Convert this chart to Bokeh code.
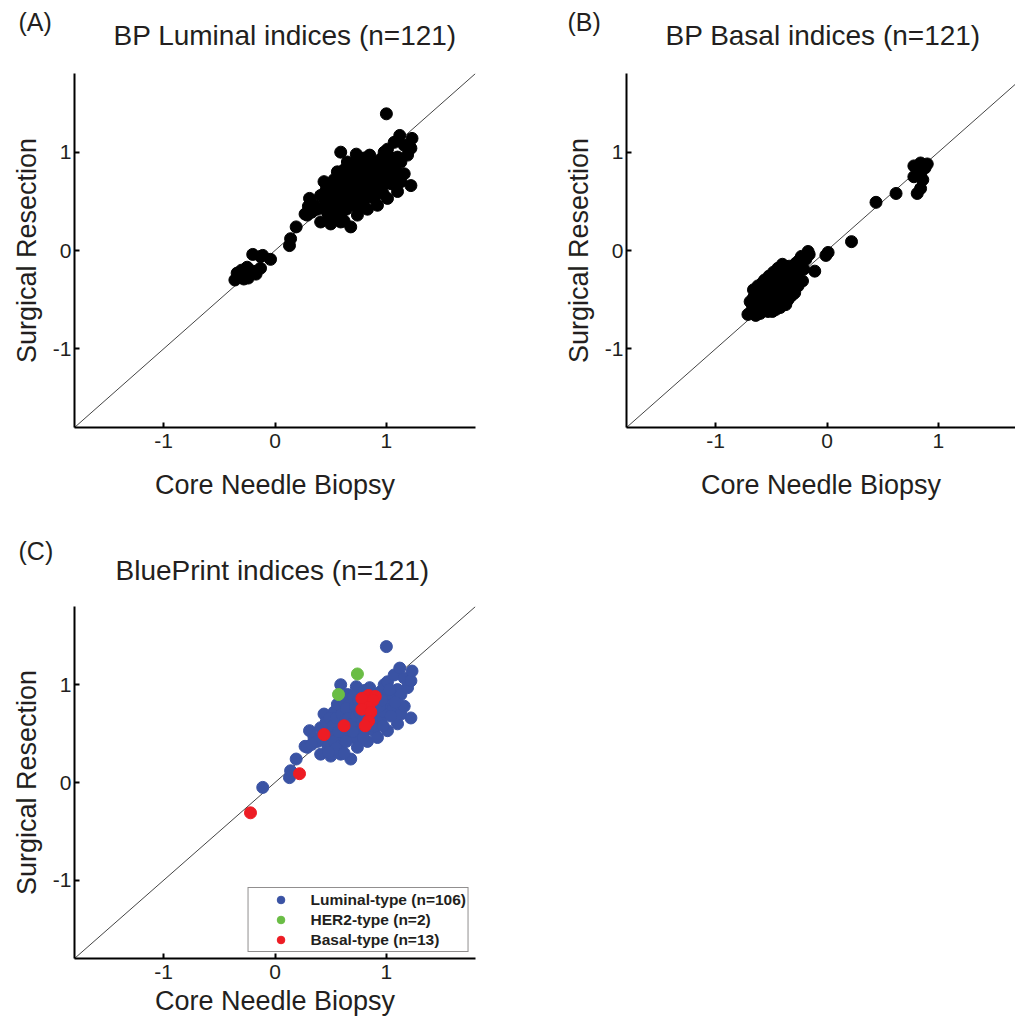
from bokeh.plotting import figure
from bokeh.models import Range1d, FixedTicker, Label
from bokeh.layouts import column, row
from bokeh.embed import file_html
from bokeh.resources import INLINE

# ---------------- data ----------------
# Luminal-type samples (n=106): luminal index, core needle biopsy (x) / surgical resection (y)
lum_lumidx_cnb = [-0.11, 0.13, 0.14, 0.19, 0.27, 0.29, 0.31, 0.35, 0.41, 0.41,
                  0.44, 0.47, 0.50, 0.50, 0.53, 0.53, 0.56, 0.59, 0.59, 0.59,
                  0.59, 0.62, 0.62, 0.65, 0.65, 0.68, 0.68, 0.68, 0.71, 0.73,
                  0.74, 0.74, 0.77, 0.77, 0.77, 0.81, 0.83, 0.85, 0.89, 0.92,
                  0.92, 0.92, 0.95, 0.95, 0.98, 0.98, 1.00, 1.01, 1.01, 1.01,
                  1.01, 1.06, 1.06, 1.07, 1.10, 1.10, 1.12, 1.13, 1.13, 1.16,
                  1.16, 1.19, 1.22, 1.22, 1.23, 0.46, 0.49, 0.52, 0.55, 0.57,
                  0.60, 0.63, 0.64, 0.66, 0.69, 0.70, 0.72, 0.73, 0.75, 0.76,
                  0.78, 0.80, 0.80, 0.82, 0.84, 0.86, 0.87, 0.88, 0.90, 0.93,
                  0.94, 0.96, 0.97, 1.03, 1.04, 1.08, 0.86, 0.55, 0.45, 0.38,
                  0.64, 0.70, 0.79, 0.62, 0.48, 0.33]
lum_lumidx_sr = [-0.05, 0.05, 0.12, 0.24, 0.37, 0.36, 0.53, 0.46, 0.29, 0.56,
                 0.70, 0.39, 0.27, 0.53, 0.72, 0.42, 0.80, 1.00, 0.63, 0.38,
                 0.29, 0.46, 0.82, 0.90, 0.56, 0.82, 0.72, 0.24, 0.46, 0.98,
                 0.63, 0.36, 0.90, 0.76, 0.53, 0.53, 0.42, 0.97, 0.53, 0.70,
                 0.83, 0.46, 0.93, 0.63, 1.00, 0.72, 1.39, 0.90, 0.82, 1.03,
                 0.53, 0.88, 0.76, 1.10, 0.95, 0.60, 1.17, 0.90, 0.70, 1.07,
                 0.78, 0.97, 1.04, 0.66, 1.14, 0.62, 0.66, 0.58, 0.66, 0.52,
                 0.70, 0.64, 0.76, 0.66, 0.60, 0.88, 0.78, 0.68, 0.84, 0.71,
                 0.62, 0.80, 0.94, 0.68, 0.86, 0.78, 0.64, 0.90, 0.76, 0.87,
                 0.78, 0.84, 0.58, 0.95, 0.68, 0.82, 0.58, 0.35, 0.48, 0.42,
                 0.42, 0.52, 0.46, 0.30, 0.31, 0.39]
# Luminal-type samples: basal index
lum_basidx_cnb = [-0.68, -0.67, -0.66, -0.65, -0.64, -0.63, -0.62, -0.61, -0.60, -0.59,
                  -0.58, -0.57, -0.57, -0.56, -0.55, -0.54, -0.54, -0.53, -0.52, -0.51,
                  -0.51, -0.50, -0.50, -0.49, -0.48, -0.48, -0.47, -0.47, -0.46, -0.46,
                  -0.45, -0.45, -0.44, -0.44, -0.43, -0.43, -0.42, -0.42, -0.41, -0.41,
                  -0.40, -0.40, -0.39, -0.39, -0.38, -0.38, -0.37, -0.37, -0.36, -0.36,
                  -0.35, -0.35, -0.34, -0.34, -0.33, -0.33, -0.32, -0.32, -0.31, -0.30,
                  -0.30, -0.29, -0.28, -0.28, -0.26, -0.26, -0.25, -0.24, -0.23, -0.21,
                  -0.19, -0.16, -0.11, -0.01, -0.49, -0.71, -0.66, -0.69, -0.60, -0.62,
                  -0.56, -0.53, -0.58, -0.52, -0.48, -0.44, -0.40, -0.46, -0.42, -0.38,
                  -0.55, -0.51, -0.47, -0.43, -0.39, -0.35, -0.31, -0.36, -0.32, -0.49,
                  -0.53, -0.45, -0.41, -0.64, -0.58, -0.54]
lum_basidx_sr = [-0.62, -0.55, -0.48, -0.60, -0.52, -0.44, -0.57, -0.50, -0.42, -0.55,
                 -0.47, -0.38, -0.60, -0.52, -0.44, -0.35, -0.56, -0.48, -0.40, -0.58,
                 -0.31, -0.50, -0.44, -0.36, -0.54, -0.47, -0.41, -0.28, -0.52, -0.34,
                 -0.45, -0.39, -0.57, -0.30, -0.49, -0.42, -0.36, -0.24, -0.53, -0.46,
                 -0.40, -0.32, -0.50, -0.27, -0.44, -0.37, -0.20, -0.55, -0.48, -0.33,
                 -0.42, -0.26, -0.38, -0.16, -0.47, -0.30, -0.22, -0.40, -0.35, -0.27,
                 -0.18, -0.43, -0.31, -0.13, -0.36, -0.22, -0.10, -0.14, -0.06, -0.19,
                 -0.09, -0.04, -0.21, -0.05, -0.62, -0.65, -0.40, -0.52, -0.64, -0.36,
                 -0.30, -0.62, -0.33, -0.26, -0.22, -0.18, -0.14, -0.60, -0.58, -0.52,
                 -0.50, -0.45, -0.50, -0.35, -0.45, -0.50, -0.45, -0.38, -0.33, -0.40,
                 -0.36, -0.27, -0.22, -0.66, -0.52, -0.42]
# HER2-type samples (n=2)
her2_lumidx_cnb = [-0.04, 0.30]
her2_lumidx_sr = [-0.09, 0.45]
her2_basidx_cnb = [-0.17, 0.01]
her2_basidx_sr = [-0.01, -0.02]
her2_bpidx_cnb = [0.57, 0.74]
her2_bpidx_sr = [0.90, 1.11]
# Basal-type samples (n=13)
bas_lumidx_cnb = [-0.20, -0.13, -0.30, -0.36, -0.24, -0.13, -0.20, -0.27, -0.32, -0.28, -0.17, -0.25, -0.34]
bas_lumidx_sr = [-0.04, -0.06, -0.20, -0.30, -0.28, -0.18, -0.21, -0.22, -0.26, -0.29, -0.24, -0.17, -0.23]
bas_basidx_cnb = [0.84, 0.90, 0.78, 0.88, 0.84, 0.78, 0.86, 0.84, 0.81, 0.62, 0.44, 0.22, -0.22]
bas_basidx_sr = [0.89, 0.88, 0.86, 0.84, 0.77, 0.75, 0.72, 0.63, 0.58, 0.58, 0.49, 0.09, -0.31]

ticks = [-1, 0, 1]
axis_lo, axis_hi = -1.8, 1.8
legend_labels = ["Luminal-type (n=106)", "HER2-type (n=2)", "Basal-type (n=13)"]
titles = ["BP Luminal indices (n=121)", "BP Basal indices (n=121)", "BluePrint indices (n=121)"]
panel_tags = ["(A)", "(B)", "(C)"]

FONT = "Liberation Sans"
TXT = "#231f20"
PX_PER_UNIT = 401 / 3.6


def make_panel(width, border_left, border_right, height, border_top, frame_h, x_end, xlabel_standoff):
    p = figure(width=width, height=height, title=None,
               x_range=Range1d(axis_lo, x_end), y_range=Range1d(axis_lo, axis_hi),
               output_backend="svg", toolbar_location=None,
               min_border_left=border_left, min_border_right=border_right,
               min_border_top=border_top,
               min_border_bottom=height - border_top - frame_h)
    p.outline_line_color = None
    p.xgrid.grid_line_color = None
    p.ygrid.grid_line_color = None
    for ax in (p.xaxis[0], p.yaxis[0]):
        ax.ticker = FixedTicker(ticks=ticks)
        ax.major_label_overrides = {t: str(t) for t in ticks}
        ax.major_label_text_font = FONT
        ax.major_label_text_font_size = "21px"
        ax.major_label_text_color = TXT
        ax.axis_label_text_font = FONT
        ax.axis_label_text_font_size = "27px"
        ax.axis_label_text_font_style = "normal"
        ax.axis_label_text_color = TXT
        ax.axis_line_width = 2
        ax.axis_line_color = "black"
        ax.major_tick_in = 5
        ax.major_tick_out = 0
        ax.major_tick_line_width = 2
        ax.major_tick_line_color = "black"
        ax.minor_tick_line_color = None
    p.xaxis.major_label_standoff = 6
    p.xaxis.axis_label_standoff = xlabel_standoff
    p.yaxis.major_label_standoff = 3
    p.yaxis.axis_label_standoff = 8
    p.xaxis.axis_label = "Core Needle Biopsy"
    p.yaxis.axis_label = "Surgical Resection"
    p.line([axis_lo, axis_hi], [axis_lo, axis_hi], line_color="#444444", line_width=1)
    return p


def add_texts(p, tag, title, tag_dx, tag_dy, title_dx, title_dy):
    # texts live in the "above" side panel so they are not clipped to the frame
    p.add_layout(Label(x=axis_lo, y=axis_hi, x_offset=tag_dx, y_offset=tag_dy, text=tag,
                       text_font=FONT, text_font_size="25px", text_color=TXT,
                       text_align="left", text_baseline="alphabetic"), "above")
    p.add_layout(Label(x=axis_lo, y=axis_hi, x_offset=title_dx, y_offset=title_dy, text=title,
                       text_font=FONT, text_font_size="28px", text_color=TXT,
                       text_align="left", text_baseline="alphabetic"), "above")


MS = 12
xend_b = axis_lo + 389 / PX_PER_UNIT

# Panel A
pa = make_panel(560, 74, 85, 530, 73, 354, axis_hi, 19)
pa.scatter(lum_lumidx_cnb + her2_lumidx_cnb + bas_lumidx_cnb,
           lum_lumidx_sr + her2_lumidx_sr + bas_lumidx_sr,
           size=MS, color="black")
add_texts(pa, panel_tags[0], titles[0], -56, 52, 39, 38)

# Panel B
pb = make_panel(455, 66, 0, 530, 73, 354, xend_b, 19)
pb.scatter(lum_basidx_cnb + her2_basidx_cnb + bas_basidx_cnb,
           lum_basidx_sr + her2_basidx_sr + bas_basidx_sr,
           size=MS, color="black")
add_texts(pb, panel_tags[1], titles[1], -59, 52, 39, 38)

# Panel C
pc = make_panel(560, 74, 85, 493, 76, 352, axis_hi, 4)
pc.scatter(lum_lumidx_cnb, lum_lumidx_sr, size=MS, color="#3a53a4", legend_label=legend_labels[0])
pc.scatter(her2_bpidx_cnb, her2_bpidx_sr, size=MS, color="#6abd45", legend_label=legend_labels[1])
pc.scatter(bas_basidx_cnb, bas_basidx_sr, size=MS, color="#ed1c24", legend_label=legend_labels[2])
add_texts(pc, panel_tags[2], titles[2], -56, 56, 41, 36)

lg = pc.legend[0]
lg.location = "bottom_right"
lg.margin = 6
lg.padding = 2
lg.spacing = 1
lg.label_height = 19
lg.glyph_height = 19
lg.glyph_width = 60
lg.label_standoff = 0
lg.label_text_font = FONT
lg.label_text_font_size = "15.5px"
lg.label_text_font_style = "bold"
lg.label_text_color = TXT
lg.border_line_color = "#231f20"
lg.border_line_width = 1
lg.background_fill_alpha = 1.0

layout = column(row(pa, pb), pc)
open("out.html", "w").write(file_html(layout, INLINE))
